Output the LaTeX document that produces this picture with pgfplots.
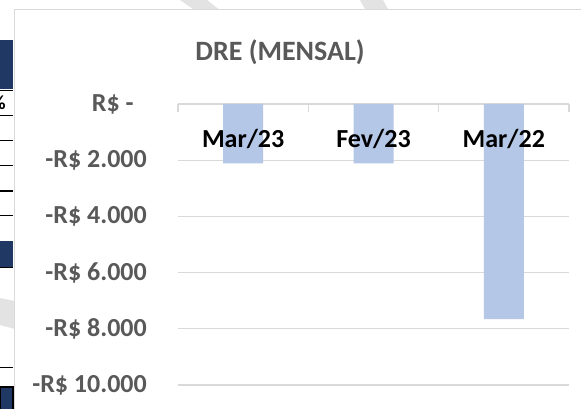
\documentclass[border=0pt]{standalone}
\usepackage{fontspec}
\setmainfont{Carlito}
\usepackage{pgfplots}
\pgfplotsset{compat=1.18}
\definecolor{barblue}{HTML}{B4C7E7}
\definecolor{gridgray}{HTML}{D9D9D9}
\definecolor{txtgray}{HTML}{595959}
\definecolor{navy}{HTML}{1F3864}
\definecolor{wm}{HTML}{E3E3E3}
\pgfplotstableread{
x y
0 -2115
1 -2115
2 -7660
}\dredata
\pgfplotsset{dreframe/.style={
  at={(178pt,-104pt)}, anchor=north west,
  scale only axis, width=391pt, height=281pt,
  xmin=-0.5, xmax=2.5, ymin=-10000, ymax=0,
  clip=false, scaled y ticks=false,
  axis line style={draw=none},
  major tick length=0pt,
}}
\begin{document}
\begin{tikzpicture}
\useasboundingbox (0,0) rectangle (581pt,-409pt);
\fill[white] (0,0) rectangle (581pt,-409pt);
% background watermark stripes
\fill[wm] (180pt,0) -- (207pt,0) -- (221pt,-11pt) -- (196pt,-11pt) -- cycle;
\fill[wm] (360pt,0) -- (383pt,0) -- (389pt,-11pt) -- (366pt,-11pt) -- cycle;
\fill[wm] (0,-298pt) -- (15pt,-301pt) -- (15pt,-329pt) -- (0,-325pt) -- cycle;
% fragments of neighbouring table
\fill[navy] (0,-40pt) rectangle (13pt,-89pt);
\fill[navy] (0,-241pt) rectangle (13pt,-267pt);
\fill[navy] (0,-387pt) rectangle (13pt,-409pt);
\foreach \yy in {90,115,140,165,215,367}{\draw[black,line width=0.9pt] (0,-\yy pt) -- (13pt,-\yy pt);}
\draw[black,line width=1.6pt] (0,-191pt) -- (13pt,-191pt);
\draw[black,line width=0.9pt] (0,-267pt) -- (13pt,-267pt);
\draw[black,line width=1.2pt] (0,-387pt) rectangle (13pt,-412pt);
\node[anchor=east,inner sep=0pt,font=\fontsize{20}{24}\selectfont\bfseries] at (6pt,-103pt) {\%};
% chart area
\fill[white] (14pt,-10pt) rectangle (585pt,-412pt);
\draw[gridgray,line width=1pt] (14pt,-412pt) -- (14pt,-10pt) -- (585pt,-10pt);
\node[anchor=base,inner sep=0pt,text=txtgray,font=\fontsize{28}{33}\selectfont\bfseries] at (280pt,-61pt) {DRE (MENSAL)};
\begin{axis}[
  dreframe,
  ybar, bar width=40pt,
  ytick={0,-2000,-4000,-6000,-8000,-10000},
  yticklabels={R\$ -\phantom{0},-R\$ 2.000,-R\$ 4.000,-R\$ 6.000,-R\$ 8.000,-R\$ 10.000},
  ytick style={draw=none},
  yticklabel style={anchor=east, inner sep=0pt, xshift=-31pt, text=txtgray, font=\fontsize{26}{31}\selectfont\bfseries},
  ymajorgrids, grid style={gridgray, line width=1.2pt},
  xtick={-0.5,0.5,1.5,2.5},
  xticklabels={},
  xtick pos=upper,
  xtick style={draw=gridgray, line width=1.2pt},
  xtick align=inside,
  major tick length=8pt,
]
\addplot[fill=barblue, draw=none] table[x=x,y=y] {\dredata};
\end{axis}
% category labels on top of the bars
\begin{axis}[
  dreframe,
  ytick=\empty,
  xtick={0,1,2},
  xticklabels={Mar/23,Fev/23,Mar/22},
  xtick style={draw=none},
  xtick pos=upper, xticklabel pos=upper,
  xticklabel style={anchor=base, inner sep=0pt, yshift=-44pt, text=black, font=\fontsize{26}{31}\selectfont\bfseries},
]
\end{axis}
\end{tikzpicture}
\end{document}
